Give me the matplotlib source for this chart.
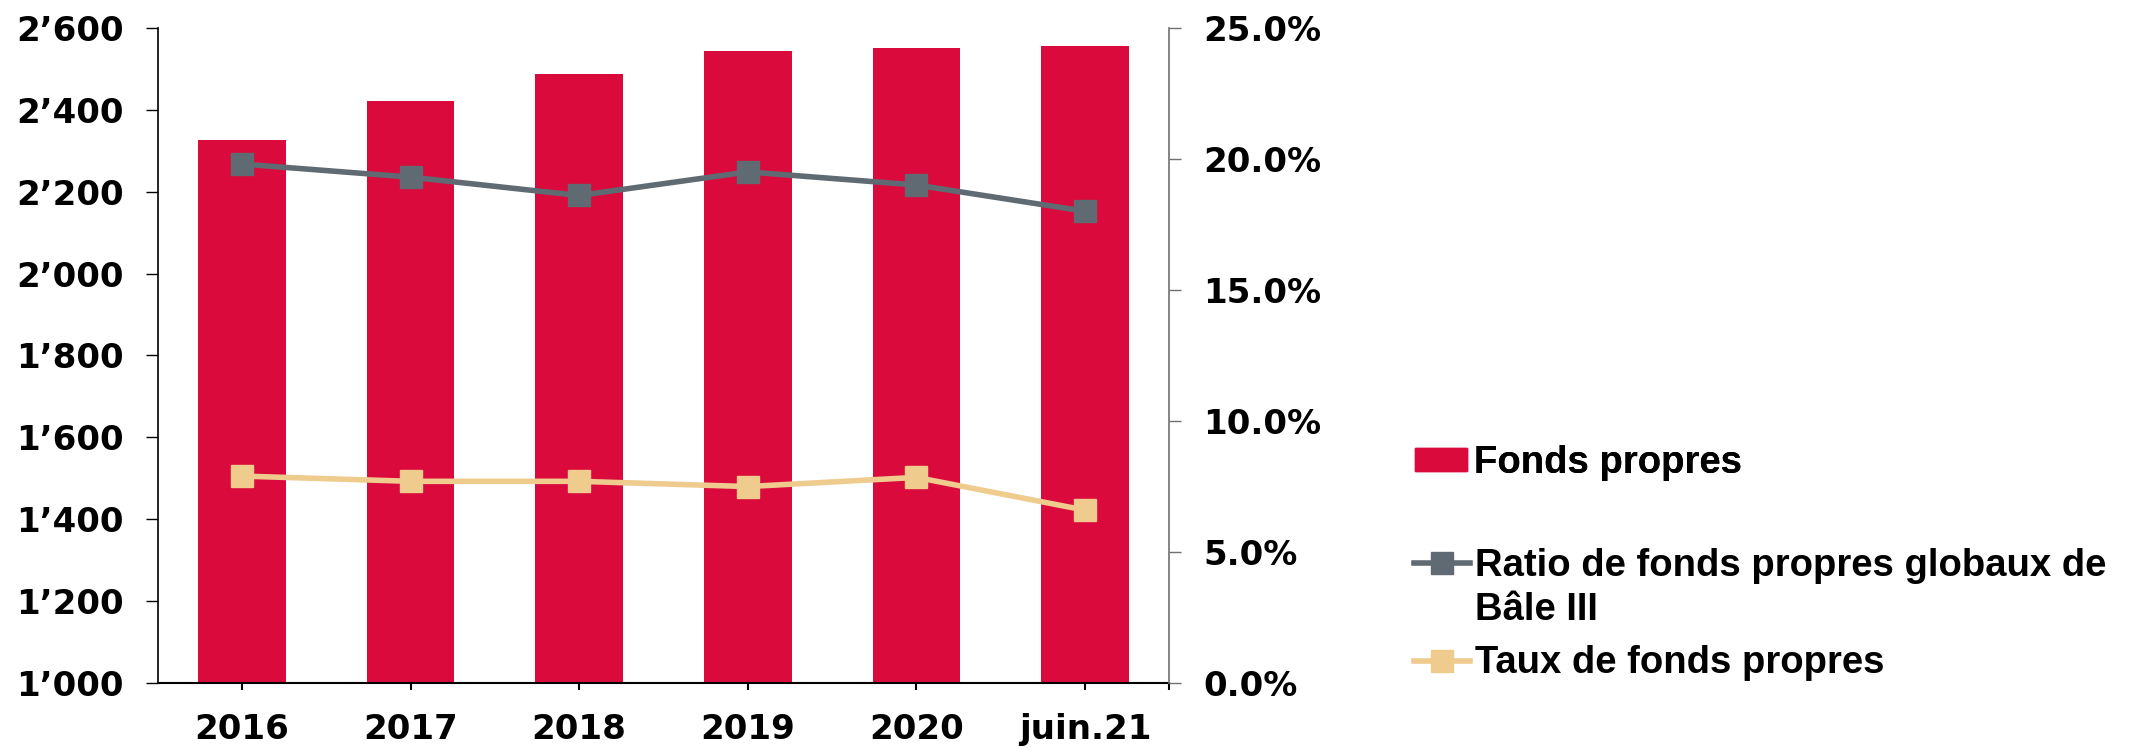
import matplotlib.pyplot as plt
from matplotlib.legend_handler import HandlerLine2D
from matplotlib.lines import Line2D
from matplotlib.patches import Patch

# data
categories = ['2016', '2017', '2018', '2019', '2020', 'juin.21']
fonds_propres = [2327, 2421, 2488, 2543, 2550, 2556]
ratio_bale3 = [19.8, 19.3, 18.6, 19.5, 19.0, 18.0]
taux_fp = [7.9, 7.7, 7.7, 7.5, 7.85, 6.6]

left_ticks = list(range(1000, 2601, 200))
right_ticks = [0, 5, 10, 15, 20, 25]

RED = '#DA0A3C'
GREY = '#5F6A72'
SAND = '#EFCB8D'

TICK_FONT = 'DejaVu Sans'
LEG_FONT = 'Liberation Sans'


class FirstLineHandler(HandlerLine2D):
    # put the handle next to the first line of a two-line label
    def __init__(self, shift, **kw):
        super().__init__(**kw)
        self.shift = shift

    def create_artists(self, legend, orig_handle, xdescent, ydescent,
                       width, height, fontsize, trans):
        arts = super().create_artists(legend, orig_handle, xdescent, ydescent,
                                      width, height, fontsize, trans)
        for a in arts:
            a.set_ydata([y + self.shift for y in a.get_ydata()])
        return arts


fig = plt.figure(figsize=(21.33, 7.48), dpi=100)
ax = fig.add_axes([0.0739, 0.0866, 0.4743, 0.8764])
ax2 = ax.twinx()

x = list(range(len(categories)))
ax.bar(x, fonds_propres, width=0.52, color=RED, zorder=2)
ax.set_ylim(1000, 2600)
ax.set_xlim(-0.5, 5.5)

ax2.plot(x, ratio_bale3, color=GREY, lw=4, marker='s', markersize=16.5)
ax2.plot(x, taux_fp, color=SAND, lw=4, marker='s', markersize=16.5)
ax2.set_ylim(0, 25)

ax.set_xticks(x)
ax.set_xticklabels(categories)
ax.set_xticks([5.5], minor=True)
ax.set_yticks(left_ticks)
ax.set_yticklabels([f'{v:,}'.replace(',', '\u2019') for v in left_ticks])
ax2.set_yticks(right_ticks)
ax2.set_yticklabels([f'{v:.1f}%' for v in right_ticks])

for a in (ax, ax2):
    a.spines['top'].set_visible(False)
    for lab in a.get_xticklabels() + a.get_yticklabels():
        lab.set_fontfamily(TICK_FONT)
        lab.set_fontweight('heavy')
        lab.set_fontsize(24.5)

ax.spines['left'].set_linewidth(1.2)
ax.spines['bottom'].set_linewidth(1.5)
ax.spines['right'].set_visible(False)
ax2.spines['left'].set_visible(False)
ax2.spines['bottom'].set_visible(False)
ax2.spines['right'].set_color('#707070')
ax2.spines['right'].set_linewidth(1.2)

ax.tick_params(axis='y', length=8.4, width=1, pad=16)
ax.tick_params(axis='x', which='both', length=5.2, width=1.5, pad=16)
ax2.tick_params(axis='y', length=8.4, width=1, color='#707070', pad=16)

bar_h = Patch(color=RED)
grey_h = Line2D([], [], color=GREY, lw=4, marker='s', markersize=16.5)
sand_h = Line2D([], [], color=SAND, lw=4, marker='s', markersize=16.5)

leg_font = {'family': LEG_FONT, 'weight': 'bold', 'size': 27.5}
leg1 = fig.legend([bar_h], ['Fonds propres'], loc='upper left',
                  bbox_to_anchor=(0.6635, 0.405), frameon=False, prop=leg_font,
                  borderpad=0, borderaxespad=0, handlelength=1.36,
                  handleheight=0.55, handletextpad=0.18)
leg2 = fig.legend([grey_h, sand_h],
                  ['Ratio de fonds propres globaux de\nBâle III', 'Taux de fonds propres'],
                  loc='upper left', bbox_to_anchor=(0.6629, 0.267), frameon=False,
                  prop=leg_font, borderpad=0, borderaxespad=0, handlelength=1.47,
                  handleheight=0.55, handletextpad=0.13, labelspacing=0.45,
                  handler_map={grey_h: FirstLineHandler(19)})
for t in leg2.get_texts():
    t.set_linespacing(1.28)
fig.add_artist(leg1)

fig.savefig('out.png', dpi=100)
